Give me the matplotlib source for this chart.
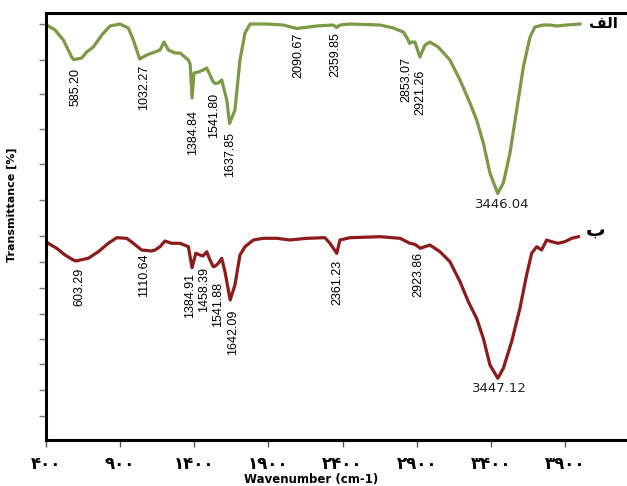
import matplotlib
matplotlib.use('Agg')
import matplotlib.pyplot as plt

# طیف الف (سبز)
wn_a = [415, 461, 517, 573, 585, 610, 641, 674, 719, 776, 832, 899, 955, 989, 1032, 1079,
        1135, 1169, 1196, 1225, 1270, 1304, 1360, 1372, 1385, 1398, 1427, 1461, 1484, 1528,
        1542, 1562, 1585, 1619, 1638, 1674, 1708, 1742, 1776, 1888, 2000, 2091, 2225, 2337,
        2360, 2382, 2450, 2652, 2742, 2809, 2832, 2853, 2866, 2888, 2921, 2956, 2989, 3045,
        3124, 3192, 3259, 3304, 3349, 3394, 3446, 3484, 3529, 3574, 3619, 3664, 3697, 3753,
        3798, 3844, 3911, 4001]
tr_a = [414, 410, 400, 383, 380.5, 381, 382, 388, 393, 405, 414, 416, 412, 400, 381, 385,
        388, 390, 398, 390, 387, 387, 380, 376, 342, 367, 368, 370, 372, 358,
        356.5, 357, 360, 340, 316.5, 330, 380, 407, 416, 416, 415, 411.5, 414, 415,
        412.5, 415, 416, 415, 412, 408, 403, 396.5, 398, 398, 383, 395, 398, 393,
        380, 360, 337, 320, 297, 267, 246.5, 257, 287, 330, 373, 403, 413, 415,
        415, 414, 415, 416]

# طیف ب (قرمز)
wn_b = [415, 472, 528, 584, 603, 630, 685, 753, 820, 877, 944, 989, 1045, 1111, 1135, 1169,
        1202, 1248, 1304, 1360, 1385, 1410, 1438, 1458, 1484, 1501, 1528, 1542, 1562, 1585,
        1607, 1642, 1674, 1708, 1742, 1798, 1865, 1956, 2045, 2158, 2281, 2315, 2361, 2382,
        2450, 2652, 2787, 2854, 2888, 2924, 2989, 3057, 3124, 3192, 3248, 3304, 3349, 3394,
        3447, 3484, 3540, 3596, 3641, 3675, 3709, 3742, 3776, 3810, 3854, 3899, 3945, 3990]
tr_b = [196.7, 191.7, 185, 180, 179, 180, 181.7, 188.3, 196.7, 202.3, 201.7, 196.7, 190, 189, 190,
        193.3, 199, 196.7, 196.7, 193.3, 172.3, 186.7, 185, 184, 188.3, 181.7, 173.3, 174, 176.7,
        181.7, 168.3, 140, 155, 185, 193.3, 200, 201.7, 201.7, 200, 201.7, 202.3, 196.7, 186.7,
        200, 202.3, 203.3, 201.7, 196.7, 195.7, 191.7, 195, 188.3, 178.3, 158.3, 138.3, 121.7,
        101.7, 75, 61.7, 71.7, 98.3, 131.7, 165, 186.7, 193.3, 190, 200, 198.3, 196.7, 198.3,
        201.7, 203.3]

# برچسب قله‌ها
peaks_a = ['585.20', '1032.27', '1384.84', '1541.80', '1637.85', '2090.67', '2359.85',
           '2853.07', '2921.26']
peaks_a_x = [602, 1061, 1391, 1533, 1641, 2099, 2349, 2827, 2922]
peaks_a_y = [372, 375, 330, 347, 308, 407, 408, 383, 370]
peaks_b = ['603.29', '1110.64', '1384.91', '1458.39', '1541.88', '1642.09', '2361.23', '2923.86']
peaks_b_x = [623, 1061, 1371, 1465, 1560, 1661, 2362, 2908]
peaks_b_y = [172, 187, 167, 173, 158, 130, 180, 188]

xticks = [400, 900, 1400, 1900, 2400, 2900, 3400, 3900]
xtick_labels = ['۴۰۰', '۹۰۰', '۱۴۰۰', '۱۹۰۰', '۲۴۰۰', '۲۹۰۰', '۳۴۰۰', '۳۹۰۰']
yticks = [416, 380, 346, 311, 276, 240, 204, 178, 152, 126, 101, 76, 50, 24]

green = '#7a9a45'
red = '#8e1b1b'
narrow = ['Liberation Sans Narrow', 'Liberation Sans', 'DejaVu Sans']

fig = plt.figure(figsize=(6.27, 4.86), dpi=100)
ax = fig.add_axes([46 / 627, 46 / 486, 1 - 46 / 627, 427 / 486])

ax.plot(wn_a, tr_a, color=green, lw=2.3, solid_joinstyle='round')
ax.plot(wn_b, tr_b, color=red, lw=2.3, solid_joinstyle='round')

for s, x, y in zip(peaks_a, peaks_a_x, peaks_a_y):
    ax.text(x, y, s, rotation=90, ha='center', va='top', fontsize=9, family=narrow)
for s, x, y in zip(peaks_b, peaks_b_x, peaks_b_y):
    ax.text(x, y, s, rotation=90, ha='center', va='top', fontsize=9, family=narrow)

ax.text(3475, 236, '3446.04', ha='center', va='center', fontsize=9.5, color='#222222')
ax.text(3461, 51, '3447.12', ha='center', va='center', fontsize=9.5, color='#222222')

# الف و ب (شکل‌های نمایشی برای اتصال درست حروف)
ax.text(4060, 416, '\ufed2\ufedf\ufe8d', ha='left', va='center', fontsize=11,
        fontweight='bold', family='DejaVu Sans')
ax.text(4040, 210, '\ufe8f', ha='left', va='center', fontsize=14,
        fontweight='bold', family='DejaVu Sans')

ax.set_xlim(400, 4318)
ax.set_ylim(0, 427)
ax.set_xticks(xticks)
ax.set_xticklabels(xtick_labels, fontsize=12, fontweight='bold', family='DejaVu Sans')
ax.set_yticks(yticks)
ax.set_yticklabels([])
ax.tick_params(axis='x', direction='out', length=5, width=1, pad=6, color='#555555')
ax.tick_params(axis='y', direction='out', length=5, width=1, color='#777777')

for side in ['left', 'bottom', 'top']:
    ax.spines[side].set_linewidth(2.2)
ax.spines['right'].set_visible(False)

ax.set_xlabel('Wavenumber (cm-1)', fontsize=8.5, fontweight='bold')
ax.xaxis.set_label_coords(0.456, -0.077)
ax.set_ylabel('Transmittance [%]', fontsize=8, fontweight='bold')
ax.yaxis.set_label_coords(-0.05, 0.55)

plt.savefig('out.png', dpi=100)
